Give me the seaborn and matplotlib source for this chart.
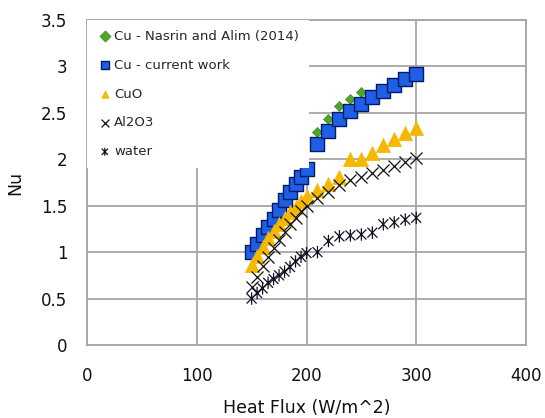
import numpy as np
import pandas as pd
import matplotlib
matplotlib.use("Agg")
import matplotlib.pyplot as plt
from matplotlib.path import Path
import seaborn as sns

# ---------------- data ----------------
nasrin_x = [210, 220, 230, 240, 250]
nasrin_nu = [2.29, 2.43, 2.57, 2.65, 2.72]

cu_x = [150, 155, 160, 165, 170, 175, 180, 185, 190, 195, 200,
        210, 220, 230, 240, 250, 260, 270, 280, 290, 300]
cu_nu = [1.00, 1.09, 1.18, 1.27, 1.36, 1.45, 1.56, 1.65, 1.73, 1.81, 1.90,
         2.17, 2.31, 2.43, 2.52, 2.60, 2.67, 2.74, 2.80, 2.86, 2.92]

cuo_x = [150, 155, 160, 165, 170, 175, 180, 185, 190, 195, 200,
         210, 220, 230, 240, 250, 260, 270, 280, 290, 300]
cuo_nu = [0.86, 0.96, 1.06, 1.15, 1.23, 1.30, 1.37, 1.43, 1.49, 1.55, 1.61,
          1.67, 1.73, 1.81, 2.00, 2.00, 2.07, 2.15, 2.22, 2.28, 2.34]

al_x = [150, 155, 160, 165, 170, 175, 180, 185, 190, 195, 200,
        210, 220, 230, 240, 250, 260, 270, 280, 290, 300]
al_nu = [0.62, 0.73, 0.85, 0.95, 1.05, 1.13, 1.22, 1.30, 1.37, 1.44, 1.50,
         1.58, 1.65, 1.72, 1.78, 1.81, 1.85, 1.88, 1.93, 1.97, 2.01]

water_x = [150, 155, 160, 165, 170, 175, 180, 185, 190, 195, 200,
           210, 220, 230, 240, 250, 260, 270, 280, 290, 300]
water_nu = [0.50, 0.56, 0.61, 0.67, 0.71, 0.75, 0.79, 0.84, 0.90, 0.95, 0.99,
            1.00, 1.12, 1.17, 1.18, 1.19, 1.21, 1.30, 1.32, 1.35, 1.37]

labels = ["Cu - Nasrin and Alim (2014)", "Cu - current work", "CuO", "Al2O3", "water"]
x_ticks = [0, 100, 200, 300, 400]
y_ticks = [0, 0.5, 1, 1.5, 2, 2.5, 3, 3.5]
y_tick_labels = ["0", "0.5", "1", "1.5", "2", "2.5", "3", "3.5"]
x_label = "Heat Flux (W/m^2)"
y_label = "Nu"

# ---------------- style ----------------
sns.set_theme(style="white")
plt.rcParams["font.family"] = ["DejaVu Sans"]

fig = plt.figure(figsize=(5.45, 4.18), dpi=100)
ax = fig.add_axes([87 / 545, 1 - 345 / 418, (526 - 87) / 545, (345 - 20) / 418])

grid_c = "#a6a6a6"

star = Path([(-1, -1), (1, 1), (-1, 1), (1, -1), (0, -1.25), (0, 1.25)],
            [Path.MOVETO, Path.LINETO, Path.MOVETO, Path.LINETO, Path.MOVETO, Path.LINETO])

sns.scatterplot(x=nasrin_x, y=nasrin_nu, ax=ax, marker="D", s=26,
                color="#4fa52a", edgecolor="#3a8a1c", linewidth=0.5, label=labels[0], zorder=3)
sns.scatterplot(x=cu_x, y=cu_nu, ax=ax, marker="s", s=105,
                color="#1f5fe6", edgecolor="#001a66", linewidth=1.0, label=labels[1], zorder=3)
sns.scatterplot(x=cuo_x, y=cuo_nu, ax=ax, marker="^", s=110,
                color="#f5b800", edgecolor="#f5b800", linewidth=0.3, label=labels[2], zorder=3)
sns.scatterplot(x=al_x, y=al_nu, ax=ax, marker="x", s=75,
                color="#111111", linewidth=0.9, label=labels[3], zorder=3)
sns.scatterplot(x=water_x, y=water_nu, ax=ax, marker=star, s=80,
                color="#111122", facecolor="none", edgecolor="#111122",
                linewidth=0.9, label=labels[4], zorder=3)

ax.set_xlim(0, 400)
ax.set_ylim(0, 3.5)
ax.set_xticks(x_ticks)
ax.set_xticklabels([str(t) for t in x_ticks])
ax.set_yticks(y_ticks)
ax.set_yticklabels(y_tick_labels)
ax.tick_params(axis="both", length=0, labelsize=12, colors="#111111")
ax.tick_params(axis="x", pad=16)
ax.tick_params(axis="y", pad=14)

ax.grid(True, color=grid_c, linewidth=1.3, zorder=0)
ax.set_axisbelow(True)
for sp in ax.spines.values():
    sp.set_color(grid_c)
    sp.set_linewidth(1.3)

ax.set_xlabel(x_label, fontsize=12.5, labelpad=10, color="#111111")
ax.set_ylabel(y_label, fontsize=12.5, labelpad=12, color="#111111")

leg = ax.legend(loc="upper left", bbox_to_anchor=(0.0, 1.0), borderaxespad=0.0,
                frameon=True, framealpha=1.0, facecolor="white", edgecolor="none",
                fontsize=9.5, labelspacing=1.2, handletextpad=0.1,
                handlelength=1.2, borderpad=0.75, fancybox=False)
leg.set_zorder(10)
for h in leg.legend_handles:
    try:
        h.set_sizes([32])
    except Exception:
        pass

fig.savefig("out.png", dpi=100)
